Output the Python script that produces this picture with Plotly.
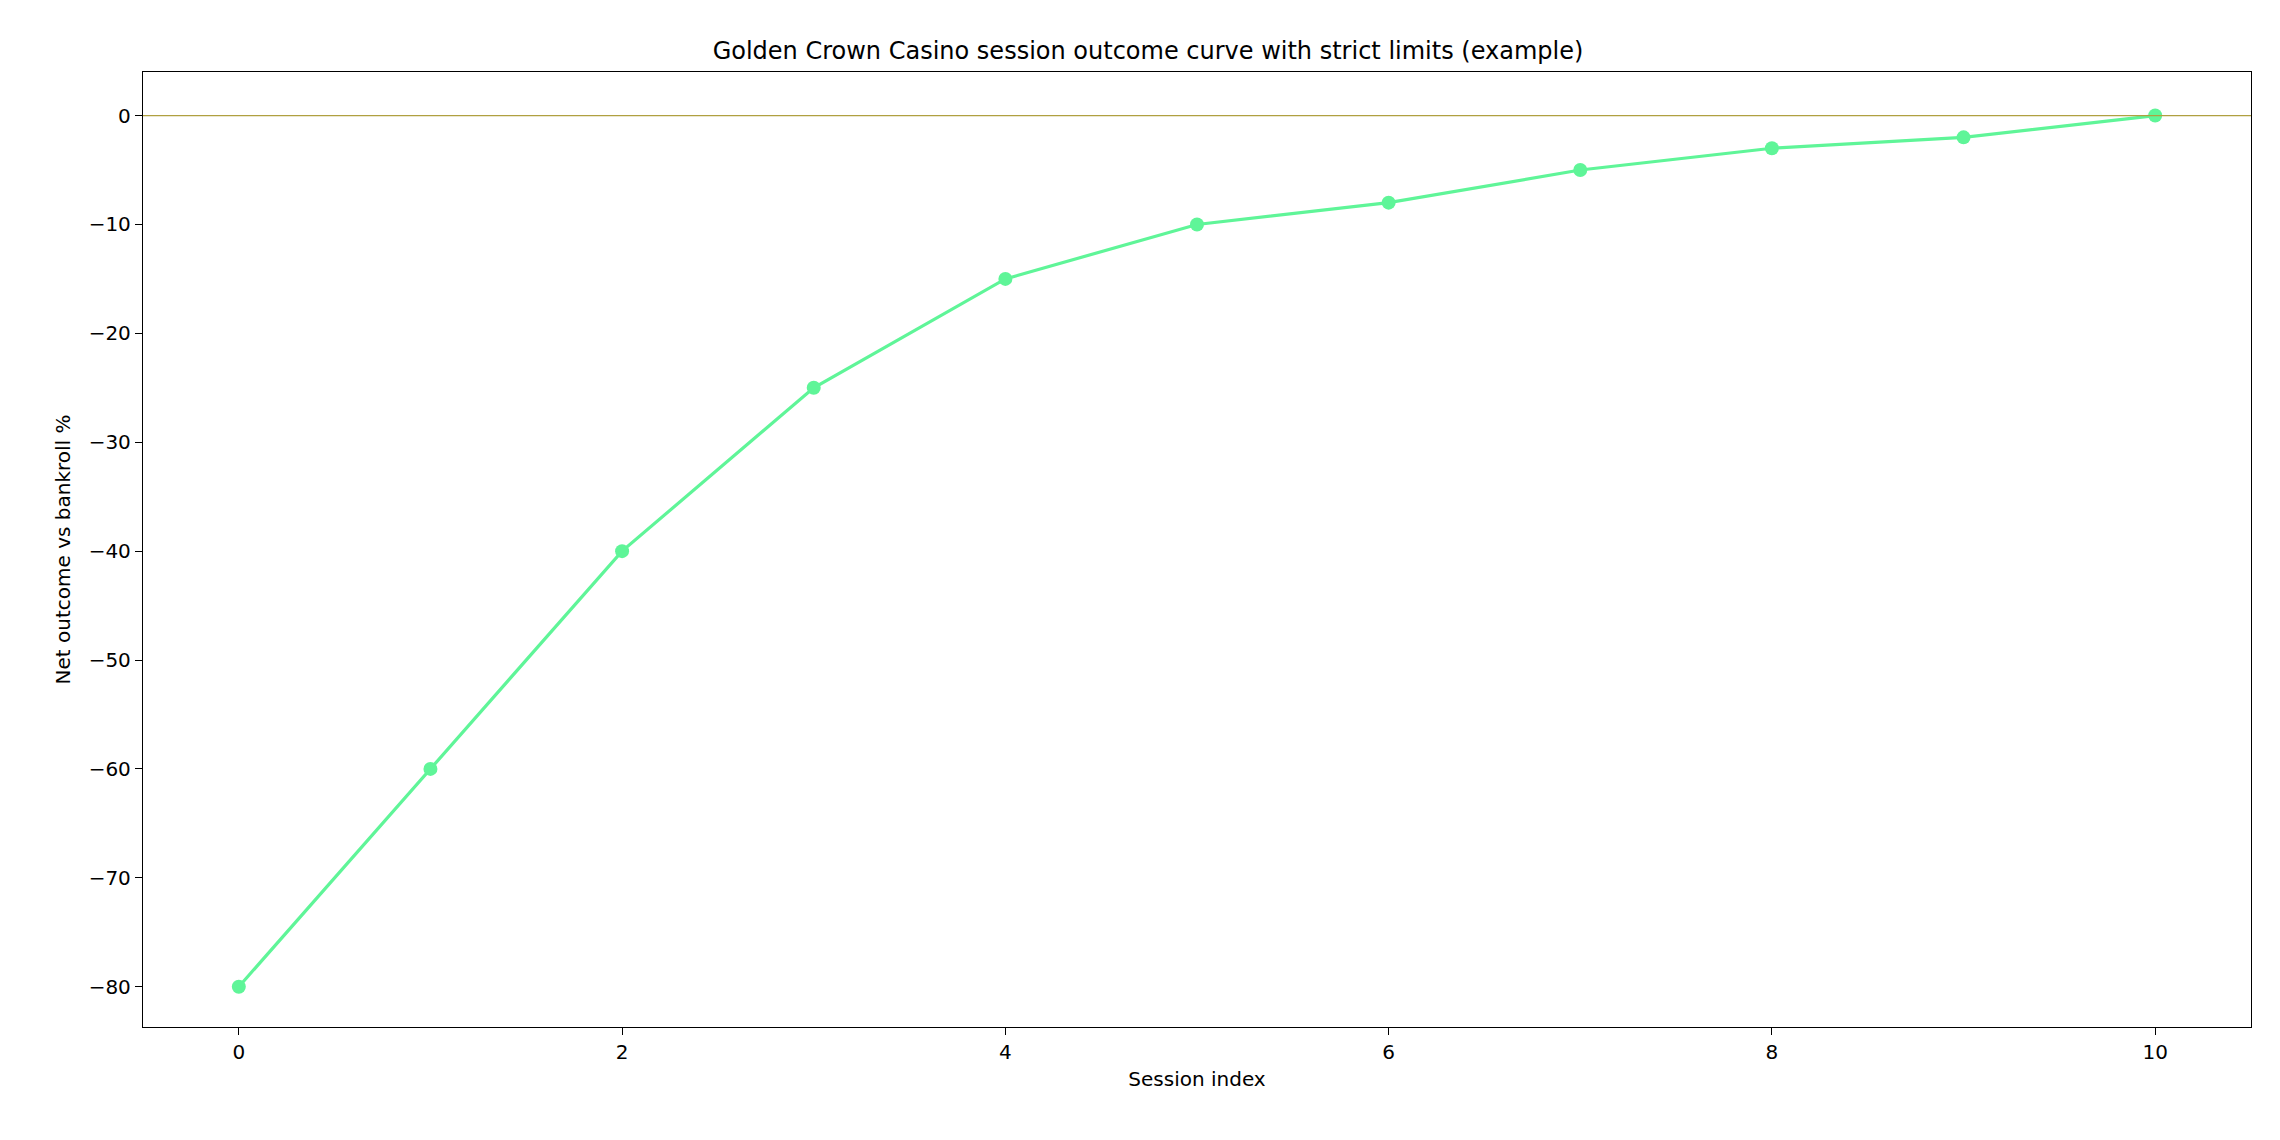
import plotly.graph_objects as go

sessions = [0, 1, 2, 3, 4, 5, 6, 7, 8, 9, 10]
net_outcome = [-80, -60, -40, -25, -15, -10, -8, -5, -3, -2, 0]

line_colour = "#5ff598"
font = dict(family="DejaVu Sans", size=20, color="black")

fig = go.Figure()
fig.add_hline(y=0, line=dict(color="#b0a040", width=1.3))
fig.add_trace(
    go.Scatter(
        x=sessions,
        y=net_outcome,
        mode="lines+markers",
        line=dict(color=line_colour, width=3.2),
        marker=dict(color=line_colour, size=14),
        showlegend=False,
    )
)

axis_common = dict(
    showgrid=False,
    zeroline=False,
    showline=True,
    mirror=True,
    linecolor="black",
    linewidth=1.3,
    ticks="outside",
    ticklen=7,
    tickcolor="black",
    tickfont=font,
)
fig.update_xaxes(
    range=[-0.5, 10.5], tickvals=[0, 2, 4, 6, 8, 10],
    title=dict(text="Session index", font=font, standoff=8), **axis_common
)
fig.update_yaxes(
    range=[-83.7, 4], tickvals=[0, -10, -20, -30, -40, -50, -60, -70, -80],
    ticktext=["0", "\u221210", "\u221220", "\u221230", "\u221240", "\u221250",
              "\u221260", "\u221270", "\u221280"],
    title=dict(text="Net outcome vs bankroll %", font=font, standoff=12), **axis_common
)
fig.update_layout(
    width=2280,
    height=1140,
    plot_bgcolor="white",
    paper_bgcolor="white",
    margin=dict(l=135, r=37, t=64, b=121),
    title=dict(
        text="Golden Crown Casino session outcome curve with strict limits (example)",
        font=dict(family="DejaVu Sans", size=24, color="black"),
        x=0.5, xanchor="center", y=0.97,
    ),
)
fig.write_html("out.html")
